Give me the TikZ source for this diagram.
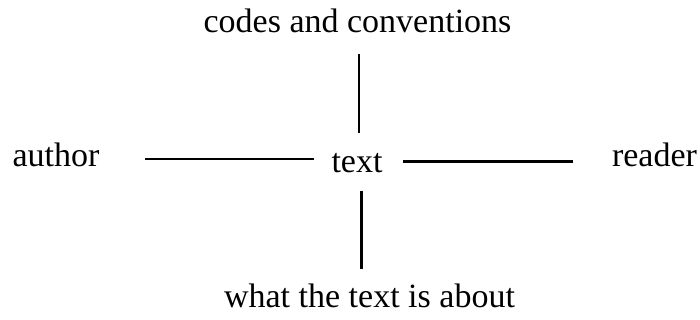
\documentclass[tikz,border=0pt]{standalone}
\usepackage{fontspec}
\setmainfont{Liberation Serif}
\begin{document}
\begin{tikzpicture}[x=1pt,y=-1pt,
  lbl/.style={anchor=base,inner sep=0pt,font=\fontsize{34}{40}\selectfont},
  conn/.style={line width=2.5pt}]
\useasboundingbox (0,0) rectangle (700,320);
\node[lbl] (codes) at (357.5,33) {codes and conventions};
\node[lbl] (author) at (56,167) {author};
\node[lbl] (text) at (357,173) {text};
\node[lbl] (reader) at (654.5,167) {reader};
\node[lbl] (about) at (369.5,307) {what the text is about};
\coordinate (tA) at (359,54);
\coordinate (tB) at (359,133);
\coordinate (lA) at (145,159);
\coordinate (lB) at (314,159);
\coordinate (rA) at (403,161.5);
\coordinate (rB) at (573,161.5);
\coordinate (bA) at (361.5,191);
\coordinate (bB) at (361.5,269);
\draw[conn] (tA) -- (tB);
\draw[conn] (lA) -- (lB);
\draw[conn] (rA) -- (rB);
\draw[conn] (bA) -- (bB);
\end{tikzpicture}
\end{document}
